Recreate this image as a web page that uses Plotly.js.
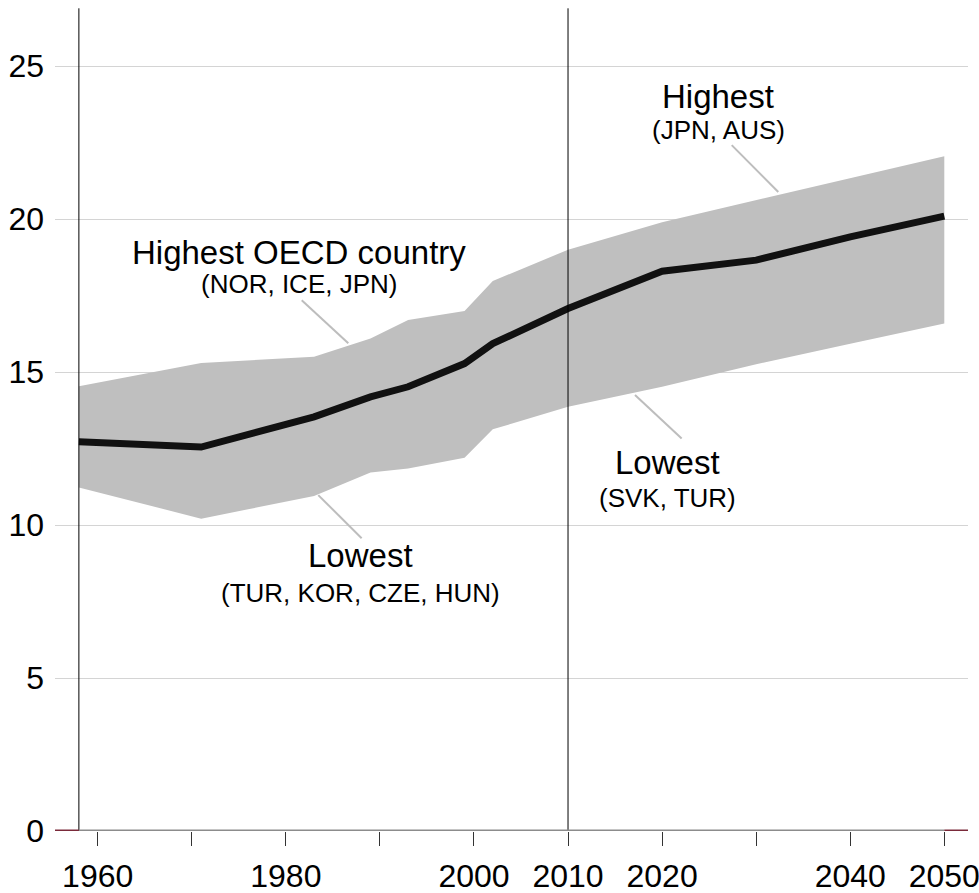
<!DOCTYPE html>
<html>
<head>
<meta charset="utf-8">
<script src="https://cdn.plot.ly/plotly-3.0.1.min.js"></script>
<style>html,body{margin:0;padding:0;background:#fff;}#chart{width:979px;height:893px;}</style>
</head>
<body>
<div id="chart"></div>
<script>
// Data
const years   = [1958, 1971, 1983, 1989, 1993, 1999, 2002, 2010, 2020, 2030, 2040, 2050];
const average = [12.72, 12.55, 13.54, 14.19, 14.52, 15.28, 15.93, 17.08, 18.30, 18.66, 19.42, 20.10];
const highest = [14.54, 15.30, 15.50, 16.10, 16.70, 17.00, 17.98, 19.00, 19.90, 20.62, 21.36, 22.06];
const lowest  = [11.23, 10.21, 10.95, 11.72, 11.85, 12.20, 13.13, 13.87, 14.52, 15.26, 15.93, 16.59];

const tickYears  = [1960, 1970, 1980, 1990, 2000, 2010, 2020, 2030, 2040, 2050];
const tickLabels = ["1960", "", "1980", "", "2000", "2010", "2020", "", "2040", "2050"];
const yTicks     = [0, 5, 10, 15, 20, 25];
const xRange     = [1955.46, 2052.52];

const markerYears = [1958, 2010];

// Labels: [main, sub, x, yMain, ySub]
const labels = [
  ["Highest OECD country", "(NOR, ICE, JPN)", 1981.45, 18.92, 17.88],
  ["Lowest", "(TUR, KOR, CZE, HUN)", 1987.95, 8.99, 7.78],
  ["Lowest", "(SVK, TUR)", 2020.6, 12.03, 10.88],
  ["Highest", "(JPN, AUS)", 2025.96, 24.02, 22.90]
];
// Leader lines: [x0, y0, x1, y1]
const leaders = [
  [1981.69, 17.35, 1986.64, 15.94],
  [1983.45, 10.98, 1988.06, 9.57],
  [2027.40, 22.42, 2032.35, 20.89],
  [2017.12, 14.25, 2022.08, 12.83]
];

const FONT = "Liberation Sans, Arial, sans-serif";

const traces = [
  {x: years, y: lowest, type: 'scatter', mode: 'lines', line: {width: 0, color: '#bfbfbf'}, hoverinfo: 'skip', showlegend: false},
  {x: years, y: highest, type: 'scatter', mode: 'lines', line: {width: 0, color: '#bfbfbf'}, fill: 'tonexty', fillcolor: '#bfbfbf', hoverinfo: 'skip', showlegend: false},
  {x: years, y: average, type: 'scatter', mode: 'lines', line: {width: 7, color: '#111111'}, showlegend: false}
];

const shapes = [];
markerYears.forEach(function (yr) {
  shapes.push({type: 'line', xref: 'x', yref: 'paper', x0: yr, x1: yr, y0: 0, y1: 0.996, line: {color: '#000', width: 1}, layer: 'above'});
});
// baseline: gray under the data span, dark red outside it
const first = years[0], last = years[years.length - 1];
shapes.push({type: 'line', xref: 'x', yref: 'y', x0: first, x1: last, y0: 0, y1: 0, line: {color: '#8c8c8c', width: 3}, layer: 'above'});
shapes.push({type: 'line', xref: 'x', yref: 'y', x0: xRange[0], x1: first, y0: 0, y1: 0, line: {color: '#7a2a3a', width: 3}, layer: 'above'});
shapes.push({type: 'line', xref: 'x', yref: 'y', x0: last, x1: xRange[1], y0: 0, y1: 0, line: {color: '#7a2a3a', width: 3}, layer: 'above'});
leaders.forEach(function (l) {
  shapes.push({type: 'line', xref: 'x', yref: 'y', x0: l[0], y0: l[1], x1: l[2], y1: l[3], line: {color: '#bdbdbd', width: 2}, layer: 'above'});
});

const annotations = [];
labels.forEach(function (a) {
  annotations.push({x: a[2], y: a[3], xref: 'x', yref: 'y', text: a[0], showarrow: false, font: {family: FONT, size: 33, color: '#000'}, xanchor: 'center', yanchor: 'middle'});
  annotations.push({x: a[2], y: a[4], xref: 'x', yref: 'y', text: a[1], showarrow: false, font: {family: FONT, size: 26, color: '#000'}, xanchor: 'center', yanchor: 'middle'});
});

const layout = {
  width: 979, height: 893,
  margin: {l: 55, r: 11, t: 5, b: 62, pad: 0},
  paper_bgcolor: '#fff', plot_bgcolor: '#fff',
  font: {family: FONT, size: 32, color: '#000'},
  showlegend: false,
  xaxis: {
    range: xRange, tickmode: 'array', tickvals: tickYears, ticktext: tickLabels,
    ticks: 'outside', ticklen: 14, tickwidth: 1, tickcolor: '#333',
    showgrid: false, zeroline: false, showline: false,
    ticklabeloverflow: 'allow', ticklabelstandoff: 3,
    tickfont: {family: FONT, size: 32, color: '#000'}, fixedrange: true
  },
  yaxis: {
    range: [0, 27], tickmode: 'array', tickvals: yTicks,
    ticks: '', showgrid: true, gridcolor: '#d4d4d4', gridwidth: 1,
    zeroline: false, showline: false, ticklabelstandoff: 10,
    tickfont: {family: FONT, size: 32, color: '#000'}, fixedrange: true
  },
  shapes: shapes,
  annotations: annotations
};

Plotly.newPlot('chart', traces, layout, {displayModeBar: false, staticPlot: true});
</script>
</body>
</html>
